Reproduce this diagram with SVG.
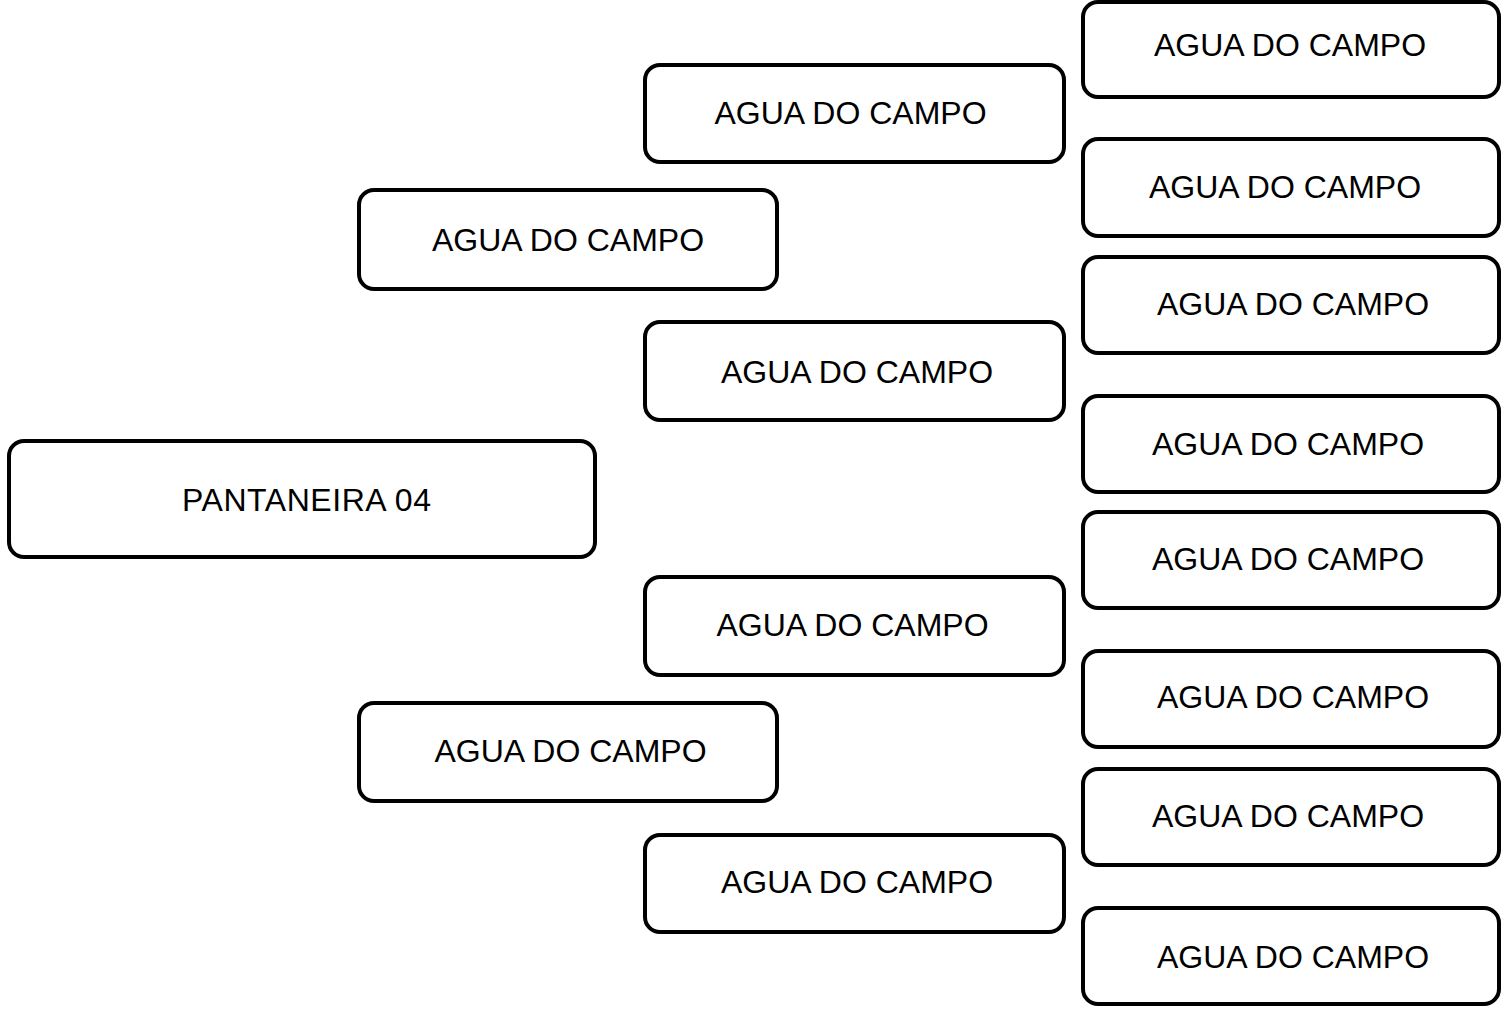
<svg xmlns="http://www.w3.org/2000/svg" width="1501" height="1011" viewBox="0 0 1501 1011">
<style>
.box{fill:#fff;stroke:#000;stroke-width:4}
.lbl{font-family:"Liberation Sans",Arial,sans-serif;font-size:32px;fill:#000;text-anchor:middle}
</style>
<rect width="1501" height="1011" fill="#fff"/>
<g id="connectors"></g>
<g id="root"><rect class="box" x="9" y="441" width="586" height="116" rx="15"/><text class="lbl" x="306.5" y="511" textLength="249" lengthAdjust="spacing">PANTANEIRA 04</text></g>
<g id="l1a"><rect class="box" x="359" y="190" width="418" height="99" rx="15"/><text class="lbl" x="568" y="251">AGUA DO CAMPO</text></g>
<g id="l1b"><rect class="box" x="359" y="703" width="418" height="98" rx="15"/><text class="lbl" x="570.5" y="762">AGUA DO CAMPO</text></g>
<g id="l2a"><rect class="box" x="645" y="65" width="419" height="97" rx="15"/><text class="lbl" x="850.5" y="124">AGUA DO CAMPO</text></g>
<g id="l2b"><rect class="box" x="645" y="322" width="419" height="98" rx="15"/><text class="lbl" x="857" y="383">AGUA DO CAMPO</text></g>
<g id="l2c"><rect class="box" x="645" y="577" width="419" height="98" rx="15"/><text class="lbl" x="852.5" y="636">AGUA DO CAMPO</text></g>
<g id="l2d"><rect class="box" x="645" y="835" width="419" height="97" rx="15"/><text class="lbl" x="857" y="893">AGUA DO CAMPO</text></g>
<g id="l3a"><rect class="box" x="1083" y="2" width="416" height="95" rx="15"/><text class="lbl" x="1290" y="56">AGUA DO CAMPO</text></g>
<g id="l3b"><rect class="box" x="1083" y="139" width="416" height="97" rx="15"/><text class="lbl" x="1285" y="198">AGUA DO CAMPO</text></g>
<g id="l3c"><rect class="box" x="1083" y="257" width="416" height="96" rx="15"/><text class="lbl" x="1293" y="315">AGUA DO CAMPO</text></g>
<g id="l3d"><rect class="box" x="1083" y="396" width="416" height="96" rx="15"/><text class="lbl" x="1288" y="455">AGUA DO CAMPO</text></g>
<g id="l3e"><rect class="box" x="1083" y="512" width="416" height="96" rx="15"/><text class="lbl" x="1288" y="570">AGUA DO CAMPO</text></g>
<g id="l3f"><rect class="box" x="1083" y="651" width="416" height="96" rx="15"/><text class="lbl" x="1293" y="708">AGUA DO CAMPO</text></g>
<g id="l3g"><rect class="box" x="1083" y="769" width="416" height="96" rx="15"/><text class="lbl" x="1288" y="827">AGUA DO CAMPO</text></g>
<g id="l3h"><rect class="box" x="1083" y="908" width="416" height="96" rx="15"/><text class="lbl" x="1293" y="968">AGUA DO CAMPO</text></g>
</svg>
